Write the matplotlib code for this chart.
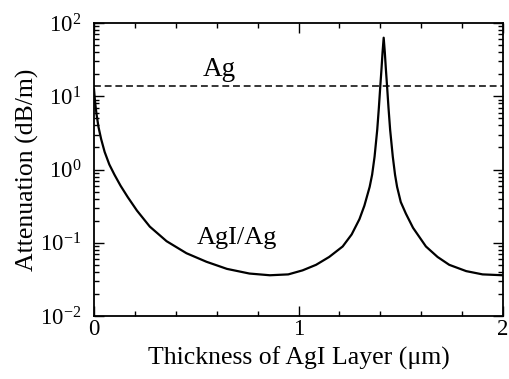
import matplotlib
matplotlib.use("Agg")
import matplotlib.pyplot as plt
from matplotlib.ticker import LogLocator, MultipleLocator, FixedLocator

plt.rcParams["font.family"] = ["Liberation Serif", "DejaVu Serif"]
plt.rcParams["mathtext.fontset"] = "custom"
plt.rcParams["mathtext.rm"] = "Liberation Serif"
plt.rcParams["mathtext.it"] = "Liberation Serif:italic"

# AgI/Ag waveguide attenuation vs. AgI film thickness
thickness_um = [
    0.000, 0.005, 0.012, 0.022, 0.035, 0.052, 0.075, 0.100, 0.130, 0.165,
    0.210, 0.273, 0.355, 0.452, 0.550, 0.650, 0.760, 0.860, 0.950, 1.020,
    1.086, 1.150, 1.216, 1.260, 1.298, 1.322, 1.348, 1.360, 1.372, 1.385,
    1.393, 1.400, 1.406, 1.411, 1.4165, 1.422, 1.427, 1.433, 1.440, 1.448,
    1.461, 1.472, 1.482, 1.500, 1.525, 1.560, 1.623, 1.680, 1.737, 1.820,
    1.900, 2.000,
]
attenuation_agi_ag = [
    12.6, 8.5, 5.8, 3.8, 2.6, 1.74, 1.17, 0.85, 0.60, 0.42,
    0.275, 0.166, 0.105, 0.072, 0.055, 0.044, 0.038, 0.036, 0.037, 0.042,
    0.050, 0.064, 0.089, 0.13, 0.21, 0.32, 0.58, 0.85, 1.5, 3.5,
    7.0, 13.8, 24.0, 40.0, 63.0, 40.0, 24.0, 13.8, 7.0, 3.5,
    1.5, 0.85, 0.58, 0.36, 0.25, 0.16, 0.089, 0.064, 0.050, 0.041,
    0.037, 0.036,
]
attenuation_ag = 13.7  # bare silver guide

fig = plt.figure(figsize=(5.10, 3.79), dpi=100)
ax = fig.add_axes([0.1843, 0.1662, 0.8020, 0.7731])

ax.plot(thickness_um, attenuation_agi_ag, color="black", lw=1.6)
ax.axhline(attenuation_ag, color="black", lw=1.1, ls=(0, (4.5, 2.5)))

ax.set_yscale("log")
ax.set_xlim(0, 2)
ax.set_ylim(1e-2, 1e2)

ax.xaxis.set_major_locator(FixedLocator([0, 1, 2]))
ax.xaxis.set_minor_locator(MultipleLocator(0.2))
ax.yaxis.set_major_locator(LogLocator(base=10, numticks=10))
ax.yaxis.set_minor_locator(LogLocator(base=10, subs=range(2, 10), numticks=10))

ax.tick_params(which="both", direction="in", top=True, right=True,
               labelsize=16.5, width=1.0)
ax.tick_params(axis="y", which="major", pad=9)
ax.tick_params(axis="x", which="major", pad=2)
ax.tick_params(which="major", length=7)
ax.tick_params(which="minor", length=3.5)
for s in ax.spines.values():
    s.set_linewidth(1.3)

ax.set_xlabel("Thickness of AgI Layer (\u03bcm)", fontsize=18.5, labelpad=5)
ax.set_ylabel("Attenuation (dB/m)", fontsize=18.5, labelpad=1)

ax.text(0.615, 15.5, "Ag", fontsize=19.5, ha="center", va="bottom")
ax.text(0.70, 0.115, "AgI/Ag", fontsize=19, ha="center", va="center")

fig.savefig("out.png", dpi=100)
